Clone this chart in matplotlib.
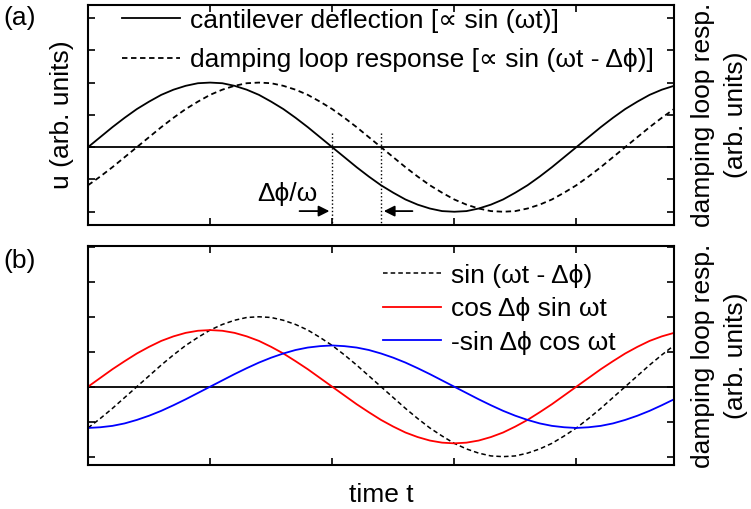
import numpy as np
import matplotlib.pyplot as plt

plt.rcParams['font.family'] = ['Liberation Sans', 'DejaVu Sans']

# time axis (units of tick spacing, period = 4)
t = [0.0, 0.1, 0.2, 0.3, 0.4, 0.5, 0.6, 0.7, 0.8, 0.9, 1.0, 1.1, 1.2, 1.3, 1.4, 1.5,
     1.6, 1.7, 1.8, 1.9, 2.0, 2.1, 2.2, 2.3, 2.4, 2.5, 2.6, 2.7, 2.8, 2.9, 3.0, 3.1,
     3.2, 3.3, 3.4, 3.5, 3.6, 3.7, 3.8, 3.9, 4.0, 4.1, 4.2, 4.3, 4.4, 4.5, 4.6, 4.7, 4.8]

# panel (a)
cantilever = [0, .31, .62, .91, 1.18, 1.41, 1.62, 1.78, 1.90, 1.98, 2.0,
              1.98, 1.90, 1.78, 1.62, 1.41, 1.18, .91, .62, .31, 0,
              -.31, -.62, -.91, -1.18, -1.41, -1.62, -1.78, -1.90, -1.98, -2.0,
              -1.98, -1.90, -1.78, -1.62, -1.41, -1.18, -.91, -.62, -.31, 0,
              .31, .62, .91, 1.18, 1.41, 1.62, 1.78, 1.90]
damping = [-1.18, -.91, -.62, -.31, 0, .31, .62, .91, 1.18, 1.41, 1.62, 1.78,
           1.90, 1.98, 2.0, 1.98, 1.90, 1.78, 1.62, 1.41, 1.18, .91, .62, .31, 0,
           -.31, -.62, -.91, -1.18, -1.41, -1.62, -1.78, -1.90, -1.98, -2.0, -1.98,
           -1.90, -1.78, -1.62, -1.41, -1.18, -.91, -.62, -.31, 0, .31, .62, .91, 1.18]

# panel (b)
cos_part = [0, .25, .50, .73, .95, 1.14, 1.31, 1.44, 1.54, 1.60, 1.62,
            1.60, 1.54, 1.44, 1.31, 1.14, .95, .73, .50, .25, 0,
            -.25, -.50, -.73, -.95, -1.14, -1.31, -1.44, -1.54, -1.60, -1.62,
            -1.60, -1.54, -1.44, -1.31, -1.14, -.95, -.73, -.50, -.25, 0,
            .25, .50, .73, .95, 1.14, 1.31, 1.44, 1.54]
sin_part = [-1.18, -1.16, -1.12, -1.05, -.95, -.83, -.69, -.53, -.36, -.18, 0,
            .18, .36, .53, .69, .83, .95, 1.05, 1.12, 1.16, 1.18,
            1.16, 1.12, 1.05, .95, .83, .69, .53, .36, .18, 0,
            -.18, -.36, -.53, -.69, -.83, -.95, -1.05, -1.12, -1.16, -1.18,
            -1.16, -1.12, -1.05, -.95, -.83, -.69, -.53, -.36]

phase_start = 2.0   # zero crossing of cantilever
phase_end = 2.4     # zero crossing of damping loop response

fs = 19
phi = '\u03d5'
om = '\u03c9'

fig = plt.figure(figsize=(7.51, 5.09), dpi=100)
ax1 = fig.add_axes([0.1172, 0.558, 0.7803, 0.432])
ax2 = fig.add_axes([0.1172, 0.0864, 0.7803, 0.430])


def style_axes(ax, ylim):
    ax.set_xlim(0, 4.8)
    ax.set_ylim(*ylim)
    ax.set_xticks([1, 2, 3, 4])
    ax.set_yticks([-2, -1, 0, 1, 2, 3, 4])
    ax.tick_params(direction='in', top=True, right=True, length=5, width=1.2,
                   labelbottom=False, labelleft=False)
    for s in ax.spines.values():
        s.set_linewidth(1.5)
    ax.axhline(0, color='k', lw=1.3)


# ---- (a)
style_axes(ax1, (-2.41, 4.4))
ax1.plot(t, cantilever, color='k', lw=1.3, label='cantilever deflection [\u221d sin (' + om + 't)]')
ax1.plot(t, damping, color='k', lw=1.3, dashes=(3, 2),
         label='damping loop response [\u221d sin (' + om + 't - \u0394' + phi + ')]')
ax1.plot([phase_start, phase_start], [0.45, -2.41], color='k', lw=1, ls=':')
ax1.plot([phase_end, phase_end], [0.45, -2.41], color='k', lw=1, ls=':')
ax1.annotate('', xy=(phase_start, -1.98), xytext=(1.71, -1.98),
             arrowprops=dict(arrowstyle='-|>', color='k', lw=1.3, mutation_scale=16))
ax1.annotate('', xy=(phase_end, -1.98), xytext=(2.68, -1.98),
             arrowprops=dict(arrowstyle='-|>', color='k', lw=1.3, mutation_scale=16))
ax1.text(1.63, -1.45, '\u0394' + phi + '/' + om, fontsize=fs, ha='center', va='center')
ax1.legend(loc='upper left', bbox_to_anchor=(0.058, 0.984), frameon=False, fontsize=fs,
           handlelength=2.2, handletextpad=0.38, labelspacing=0.6, borderpad=0,
           borderaxespad=0)
ax1.text(-0.044, 0.5, 'u (arb. units)', transform=ax1.transAxes, rotation=90,
         ha='center', va='center', fontsize=fs)
ax1.text(1.078, 0.5, 'damping loop resp.\n(arb. units)', transform=ax1.transAxes,
         rotation=90, ha='center', va='center', multialignment='center', fontsize=fs,
         linespacing=1.5)
fig.text(0.005, 0.965, '(a)', fontsize=fs, ha='left', va='center')

# ---- (b)
style_axes(ax2, (-2.24, 4.02))
ax2.plot(t, damping, color='k', lw=1.1, dashes=(3, 2), label='sin (' + om + 't - \u0394' + phi + ')')
ax2.plot(t, cos_part, color='#ff0000', lw=1.3, label='cos \u0394' + phi + ' sin ' + om + 't')
ax2.plot(t, sin_part, color='#0000ff', lw=1.3, label='-sin \u0394' + phi + ' cos ' + om + 't')
ax2.legend(loc='upper left', bbox_to_anchor=(0.503, 0.92), frameon=False, fontsize=fs,
           handlelength=2.2, handletextpad=0.38, labelspacing=0.36, borderpad=0,
           borderaxespad=0)
ax2.text(1.078, 0.5, 'damping loop resp.\n(arb. units)', transform=ax2.transAxes,
         rotation=90, ha='center', va='center', multialignment='center', fontsize=fs,
         linespacing=1.5)
ax2.set_xlabel('time t', fontsize=fs, labelpad=13)
fig.text(0.005, 0.487, '(b)', fontsize=fs, ha='left', va='center')

fig.savefig('out.png', dpi=100)
